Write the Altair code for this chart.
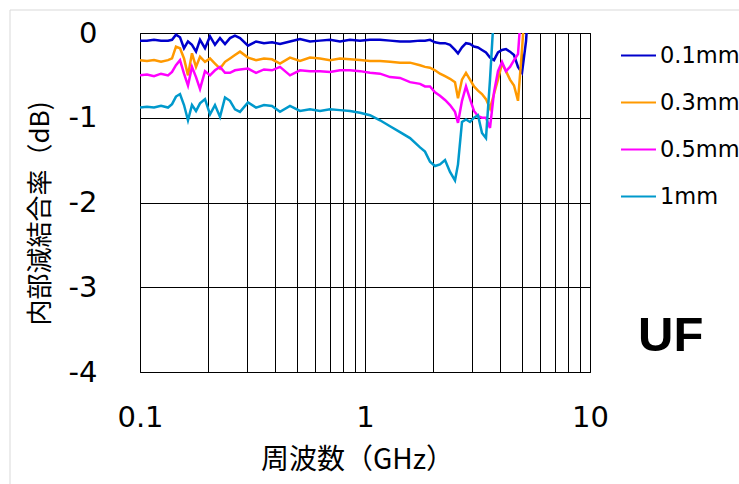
import altair as alt
import pandas as pd

# Frequency grid (GHz), log-spaced sampling of the measurement sweep
freq = [0.1, 0.1074, 0.1154, 0.1240, 0.1332, 0.1388, 0.1445, 0.1506, 0.1569, 0.1634,
        0.1702, 0.1774, 0.1848, 0.1945, 0.2047, 0.2154, 0.2268, 0.2387, 0.2512, 0.2643,
        0.2783, 0.3020, 0.3279, 0.3557, 0.3861, 0.4190, 0.4642, 0.5142, 0.5696, 0.6310,
        0.6990, 0.7743, 0.8577, 0.9502, 1.0525, 1.166, 1.292, 1.431, 1.585, 1.756,
        1.848, 1.945, 2.047, 2.154, 2.268, 2.387, 2.512, 2.590, 2.698, 2.811,
        2.929, 3.051, 3.178, 3.311, 3.449, 3.594, 3.744, 3.900, 4.063, 4.233,
        4.410, 4.594, 4.786, 4.986, 5.195, 5.412]

# Internal decoupling ratio (dB) per gap width
db_01mm = [-0.09, -0.09, -0.08, -0.09, -0.09, -0.08, -0.02, -0.05, -0.18, -0.10,
           -0.14, -0.22, -0.08, -0.18, -0.04, -0.14, -0.06, -0.13, -0.06, -0.03,
           -0.06, -0.15, -0.10, -0.12, -0.11, -0.13, -0.10, -0.07, -0.10, -0.09,
           -0.08, -0.10, -0.08, -0.09, -0.08, -0.08, -0.09, -0.10, -0.10, -0.09,
           -0.09, -0.08, -0.11, -0.12, -0.12, -0.14, -0.20, -0.24, -0.17, -0.12,
           -0.13, -0.16, -0.17, -0.20, -0.23, -0.29, -0.32, -0.23, -0.20, -0.19,
           -0.22, -0.26, -0.40, -0.47, -0.10, 0.6]
db_03mm = [-0.32, -0.33, -0.32, -0.34, -0.32, -0.30, -0.16, -0.18, -0.30, -0.50,
           -0.24, -0.40, -0.28, -0.34, -0.30, -0.36, -0.42, -0.34, -0.30, -0.26,
           -0.22, -0.29, -0.32, -0.30, -0.31, -0.36, -0.29, -0.33, -0.29, -0.30,
           -0.32, -0.30, -0.31, -0.32, -0.33, -0.33, -0.34, -0.35, -0.35, -0.38,
           -0.40, -0.41, -0.44, -0.48, -0.51, -0.54, -0.58, -0.77, -0.55, -0.47,
           -0.55, -0.63, -0.68, -0.72, -0.78, -0.89, -0.72, -0.55, -0.36, -0.45,
           -0.55, -0.62, -0.80, -0.20, 0.5]
db_05mm = [-0.50, -0.49, -0.51, -0.48, -0.50, -0.46, -0.38, -0.32, -0.48, -0.62,
           -0.40, -0.52, -0.66, -0.45, -0.50, -0.44, -0.40, -0.47, -0.47, -0.44,
           -0.43, -0.42, -0.47, -0.43, -0.44, -0.40, -0.50, -0.44, -0.45, -0.45,
           -0.46, -0.44, -0.44, -0.45, -0.47, -0.48, -0.52, -0.53, -0.58, -0.60,
           -0.63, -0.63, -0.70, -0.74, -0.79, -0.85, -0.93, -1.06, -0.80, -0.63,
           -0.78, -0.92, -0.98, -1.00, -1.00, -1.12, -0.70, -0.45, -0.34, -0.45,
           -0.40, -0.32, -0.25, 0.4]
db_1mm = [-0.88, -0.87, -0.88, -0.86, -0.88, -0.84, -0.75, -0.72, -0.85, -1.03,
          -0.85, -0.92, -0.83, -0.78, -0.96, -0.85, -0.99, -0.76, -0.80, -0.90,
          -0.93, -0.82, -0.88, -0.85, -0.86, -0.93, -0.86, -0.92, -0.90, -0.92,
          -0.90, -0.91, -0.92, -0.94, -0.97, -1.03, -1.10, -1.17, -1.24, -1.35,
          -1.40, -1.52, -1.57, -1.55, -1.50, -1.64, -1.74, -1.55, -1.05, -1.02,
          -1.05, -1.00, -0.97, -1.18, -1.24, -0.55, 0.25]

series_names = ["0.1mm", "0.3mm", "0.5mm", "1mm"]
series_colors = ["#0000CC", "#FF9900", "#FF00FF", "#0099CC"]
series_values = [db_01mm, db_03mm, db_05mm, db_1mm]

x_grid = [0.1, 0.2, 0.3, 0.4, 0.5, 0.6, 0.7, 0.8, 0.9,
          1, 2, 3, 4, 5, 6, 7, 8, 9, 10]
y_ticks = [0, -1, -2, -3, -4]

rows = []
for name, vals in zip(series_names, series_values):
    for f, v in zip(freq, vals):
        rows.append({"freq": f, "db": v, "gap": name})
df = pd.DataFrame(rows)

lines = alt.Chart(df).mark_line(strokeWidth=2.5, clip=True).encode(
    x=alt.X("freq:Q",
            scale=alt.Scale(type="log", domain=[0.1, 10], nice=False),
            axis=alt.Axis(values=x_grid, grid=True, gridColor="#000000", gridWidth=1,
                          ticks=False, domain=False, labelFlush=False,
                          labelExpr="(datum.value == 0.1 || datum.value == 1 || datum.value == 10) ? '' + datum.value : ''",
                          labelFont="DejaVu Sans", labelFontSize=29, labelColor="#000000",
                          labelPadding=31,
                          title="周波数（GHz）", titleFont="Noto Sans CJK JP",
                          titleFontSize=28, titleFontWeight="normal", titleColor="#000000",
                          titleX=217, titleY=88, titleBaseline="middle")),
    y=alt.Y("db:Q",
            scale=alt.Scale(domain=[-4, 0], nice=False),
            axis=alt.Axis(values=y_ticks, grid=True, gridColor="#000000", gridWidth=1,
                          ticks=False, domain=False,
                          labelExpr="'' + datum.value",
                          labelFont="DejaVu Sans", labelFontSize=29, labelColor="#000000",
                          labelPadding=43,
                          title="内部減結合率（dB)", titleFont="Noto Sans CJK JP",
                          titleFontSize=26, titleFontWeight="normal", titleColor="#000000",
                          titleX=-100, titleY=180, titleAngle=-90,
                          titleBaseline="middle", titleAlign="center")),
    color=alt.Color("gap:N",
                    scale=alt.Scale(domain=series_names, range=series_colors),
                    sort=series_names,
                    legend=alt.Legend(title=None, orient="none", legendX=480, legendY=4,
                                      symbolType="stroke", symbolSize=1225,
                                      symbolStrokeWidth=2, labelFont="DejaVu Sans",
                                      labelFontSize=22.5, labelColor="#000000",
                                      labelOffset=3, rowPadding=17)),
    order=alt.Order("gap:N"),
)

# Outer frame around the whole figure
frame = alt.Chart(pd.DataFrame({"k": [0]})).mark_rect(
    fill=None, stroke="#D9D9D9", strokeWidth=1, clip=False
).encode(x=alt.value(-130), y=alt.value(-23), x2=alt.value(700), y2=alt.value(600))

label = alt.Chart(pd.DataFrame({"t": ["UF"]})).mark_text(
    font="Liberation Sans", fontSize=49, fontWeight="bold", color="#000000",
    align="left", baseline="alphabetic", clip=False
).encode(x=alt.value(498), y=alt.value(318), text="t:N")

chart = alt.layer(frame, lines, label).properties(
    width=450, height=339,
    padding={"left": 140, "top": 33, "right": 149, "bottom": 112},
    autosize=alt.AutoSizeParams(type="none"),
    background="#FFFFFF",
).configure_view(stroke="#000000", strokeWidth=1)

chart.save("out.html", embed_options={"renderer": "svg", "actions": False})
